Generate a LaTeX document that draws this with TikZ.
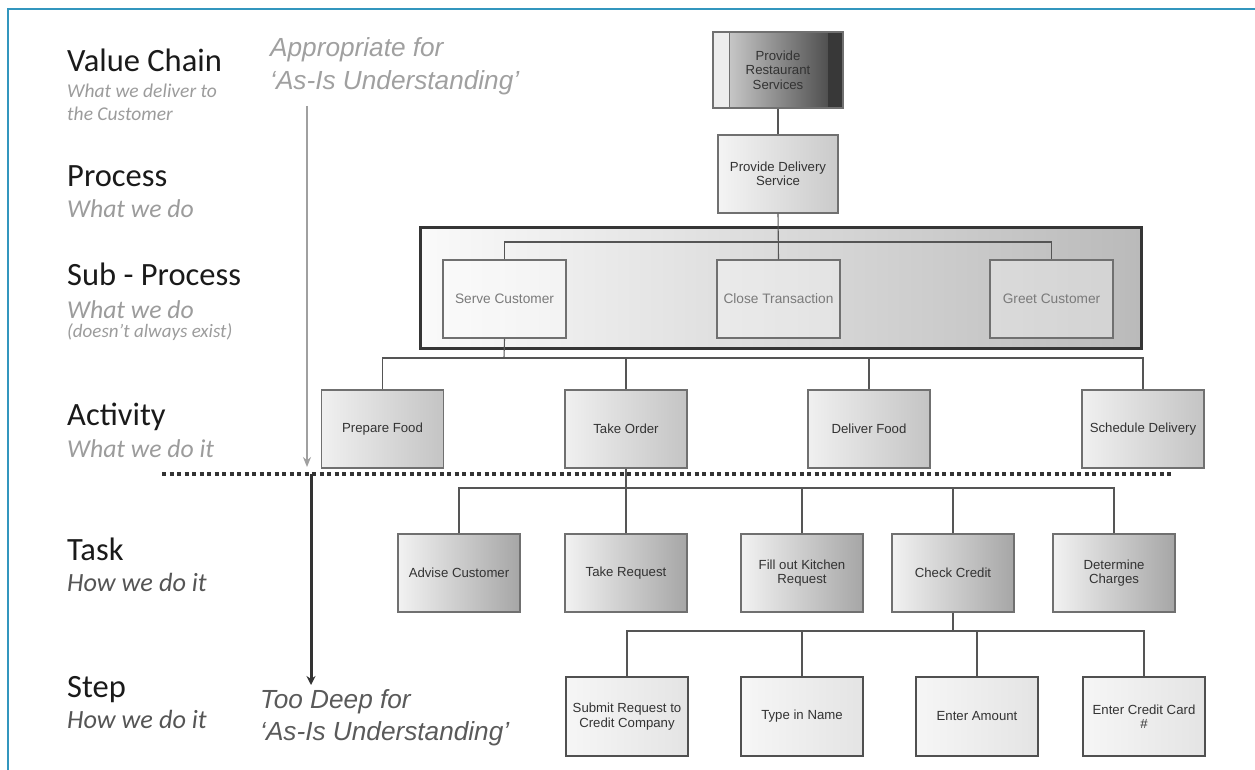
\documentclass[tikz,border=0pt]{standalone}
\usepackage{fontspec}
\setmainfont{Carlito}
\newfontfamily\arialf{Liberation Sans}
\usetikzlibrary{arrows.meta}

\definecolor{frameblue}{RGB}{50,150,190}
\definecolor{boxline}{HTML}{707070}
\definecolor{linkc}{HTML}{555555}
\definecolor{boxtext}{HTML}{333333}
\definecolor{subtext}{HTML}{7A7A7A}
\definecolor{actL}{HTML}{F0F0F0}
\definecolor{actR}{HTML}{C4C4C4}
\definecolor{taskL}{HTML}{F2F2F2}
\definecolor{taskR}{HTML}{A6A6A6}
\definecolor{stepL}{HTML}{F6F6F6}
\definecolor{stepR}{HTML}{E4E4E4}
\definecolor{stepline}{HTML}{505050}
\definecolor{delL}{HTML}{F4F4F4}
\definecolor{delR}{HTML}{CACACA}
\definecolor{contL}{HTML}{FAFAFA}
\definecolor{contR}{HTML}{BABABA}
\definecolor{contline}{HTML}{353535}
\definecolor{topL}{HTML}{DADADA}
\definecolor{topR}{HTML}{3E3E3E}
\definecolor{lblc}{HTML}{1A1A1A}
\definecolor{subgray}{HTML}{9C9C9C}
\definecolor{howc}{HTML}{555555}
\definecolor{appc}{HTML}{A0A0A0}
\definecolor{deepc}{HTML}{5A5A5A}
\definecolor{dotc}{HTML}{333333}

\tikzset{
  box/.style={draw=boxline, line width=1.2pt, minimum width=122pt,
    minimum height=78pt, inner sep=2pt, align=center, text=boxtext,
    font=\arialf\fontsize{13.2}{14.5}\selectfont},
  actbox/.style={box, left color=actL, right color=actR},
  taskbox/.style={box, left color=taskL, right color=taskR},
  stepbox/.style={box, draw=stepline, left color=stepL, right color=stepR,
    minimum height=79pt},
  subbox/.style={box, minimum width=123pt, fill=white, fill opacity=0.35,
    text opacity=1, text=subtext, font=\arialf\fontsize{13.7}{15}\selectfont},
  link/.style={draw=linkc, line width=1.1pt},
  level/.style={anchor=base west, inner sep=0pt, text=lblc,
    font=\fontsize{32.5}{37}\selectfont},
  lvlnote/.style={anchor=base west, inner sep=0pt, text=subgray,
    font=\itshape\fontsize{25.7}{29}\selectfont},
  lvlsmall/.style={lvlnote, font=\itshape\fontsize{19.5}{22}\selectfont},
  lvltiny/.style={lvlnote, font=\itshape\fontsize{19}{21}\selectfont},
  hownote/.style={lvlnote, text=howc, font=\itshape\fontsize{26.3}{29}\selectfont},
  scopenote/.style={anchor=base west, inner sep=0pt,
    font=\arialf\itshape\fontsize{26.2}{30}\selectfont},
  dotline/.style={draw=dotc, line width=4pt, dash pattern=on 4.3pt off 3.2pt},
}

\begin{document}
\begin{tikzpicture}[x=1pt,y=-1pt]
\useasboundingbox (0,0) rectangle (1255,770);
\fill[white] (0,0) rectangle (1255,770);

% outer frame (top and left edges)
\draw[frameblue, line width=2.6pt] (8,770) -- (8,9) -- (1255,9);

% ---- level labels on the left ----
\node[level] (lvVC) at (67,72) {Value Chain};
\node[lvlsmall] (lvVCa) at (67,98) {What we deliver to};
\node[lvlsmall] (lvVCb) at (67,121) {the Customer};
\node[level] (lvPR) at (67,186) {Process};
\node[lvlnote] (lvPRa) at (67,218) {What we do};
\node[level] (lvSP) at (67,285) {Sub - Process};
\node[lvlnote] (lvSPa) at (67,318) {What we do};
\node[lvltiny] (lvSPb) at (67,337) {(doesn’t always exist)};
\node[level] (lvAC) at (67,425) {Activity};
\node[lvlnote] (lvACa) at (67,457) {What we do it};
\node[level] (lvTK) at (67,560) {Task};
\node[hownote] (lvTKa) at (67,591) {How we do it};
\node[level] (lvST) at (67,697) {Step};
\node[hownote] (lvSTa) at (67,728) {How we do it};

% ---- scope notes and their arrows ----
\node[scopenote, text=appc] (appA) at (270,57) {Appropriate for};
\node[scopenote, text=appc] (appB) at (270,90) {‘As-Is Understanding’};
\node[scopenote, text=deepc] (deepA) at (260,708) {Too Deep for};
\node[scopenote, text=deepc] (deepB) at (260,740) {‘As-Is Understanding’};

\coordinate (appTop) at (307,106);
\coordinate (appTip) at (307,467);
\draw[draw=appc, line width=2pt, -{Stealth[length=10pt,width=8pt]}] (appTop) -- (appTip);

% ---- value chain and process ----
\node[box, minimum width=130pt, minimum height=76pt, left color=topL,
  right color=topR, draw=boxline,
  path picture={
    \fill[white!93!black] (path picture bounding box.north west)
      rectangle ([xshift=16pt]path picture bounding box.south west);
    \draw[boxline, line width=1pt] ([xshift=16pt]path picture bounding box.north west)
      -- ([xshift=16pt]path picture bounding box.south west);
    \fill[topR!90!black] ([xshift=-15pt]path picture bounding box.north east)
      rectangle (path picture bounding box.south east);
  }] (vc) at (778,70) {Provide\\Restaurant\\Services};

\node[box, minimum width=120pt, left color=delL, right color=delR] (deliv) at (778,174) {Provide Delivery\\Service};

\draw[link] (vc.south) -- (deliv.north);

% ---- sub-process group ----
\node[draw=contline, line width=3pt, left color=contL, right color=contR,
  minimum width=721pt, minimum height=121pt, inner sep=0pt] (group) at (780.5,287.5) {};

\coordinate (subbus) at (778,242);
\node[subbox] (serve) at (504.5,299) {Serve Customer};
\node[subbox] (close) at (778.5,299) {Close Transaction};
\node[subbox] (greet) at (1051.5,299) {Greet Customer};

\draw[link] (serve.north) |- (subbus) -| (greet.north);
\draw[link] (deliv.south) -- (close.north);

% ---- activities ----
\node[actbox] (prep) at (382.5,429) {Prepare Food};
\node[actbox] (order) at (626,429) {Take Order};
\node[actbox] (dfood) at (869,429) {Deliver Food};
\node[actbox] (sched) at (1143,429) {Schedule Delivery};

\coordinate (actbus) at (504,358);
\draw[link] (serve.south) -- (actbus);
\draw[link] (prep.north) |- (actbus) -| (sched.north);
\draw[link] (order.north) -- (order.north |- actbus);
\draw[link] (dfood.north) -- (dfood.north |- actbus);

% ---- tasks ----
\node[taskbox] (advise) at (459,573) {Advise Customer};
\node[taskbox] (request) at (626,573) {Take Request};
\node[taskbox] (kitchen) at (802,573) {Fill out Kitchen\\Request};
\node[taskbox] (credit) at (953,573) {Check Credit};
\node[taskbox] (charges) at (1114,573) {Determine\\Charges};

\coordinate (taskbus) at (626,488);
\draw[link] (order.south) -- (taskbus);
\draw[link] (advise.north) |- (taskbus) -| (charges.north);
\draw[link] (request.north) -- (request.north |- taskbus);
\draw[link] (kitchen.north) -- (kitchen.north |- taskbus);
\draw[link] (credit.north) -- (credit.north |- taskbus);

% ---- steps ----
\node[stepbox] (submit) at (627,716.5) {Submit Request to\\Credit Company};
\node[stepbox] (tname) at (802,716.5) {Type in Name};
\node[stepbox] (amount) at (977,716.5) {Enter Amount};
\node[stepbox] (card) at (1144,716.5) {Enter Credit Card\\\#};

\coordinate (stepbus) at (953,631);
\draw[link] (credit.south) -- (stepbus);
\draw[link] (submit.north) |- (stepbus) -| (card.north);
\draw[link] (tname.north) -- (tname.north |- stepbus);
\draw[link] (amount.north) -- (amount.north |- stepbus);

% ---- cut-off line and the downward arrow ----
\coordinate (dotL) at (162,474);
\coordinate (dotR) at (1173,474);
\draw[dotline] (dotL) -- (dotR);

\coordinate (deepTop) at (311,474);
\coordinate (deepTip) at (311,685);
\draw[draw=dotc, line width=3pt, -{Stealth[length=9pt,width=9pt]}] (deepTop) -- (deepTip);
\end{tikzpicture}
\end{document}
